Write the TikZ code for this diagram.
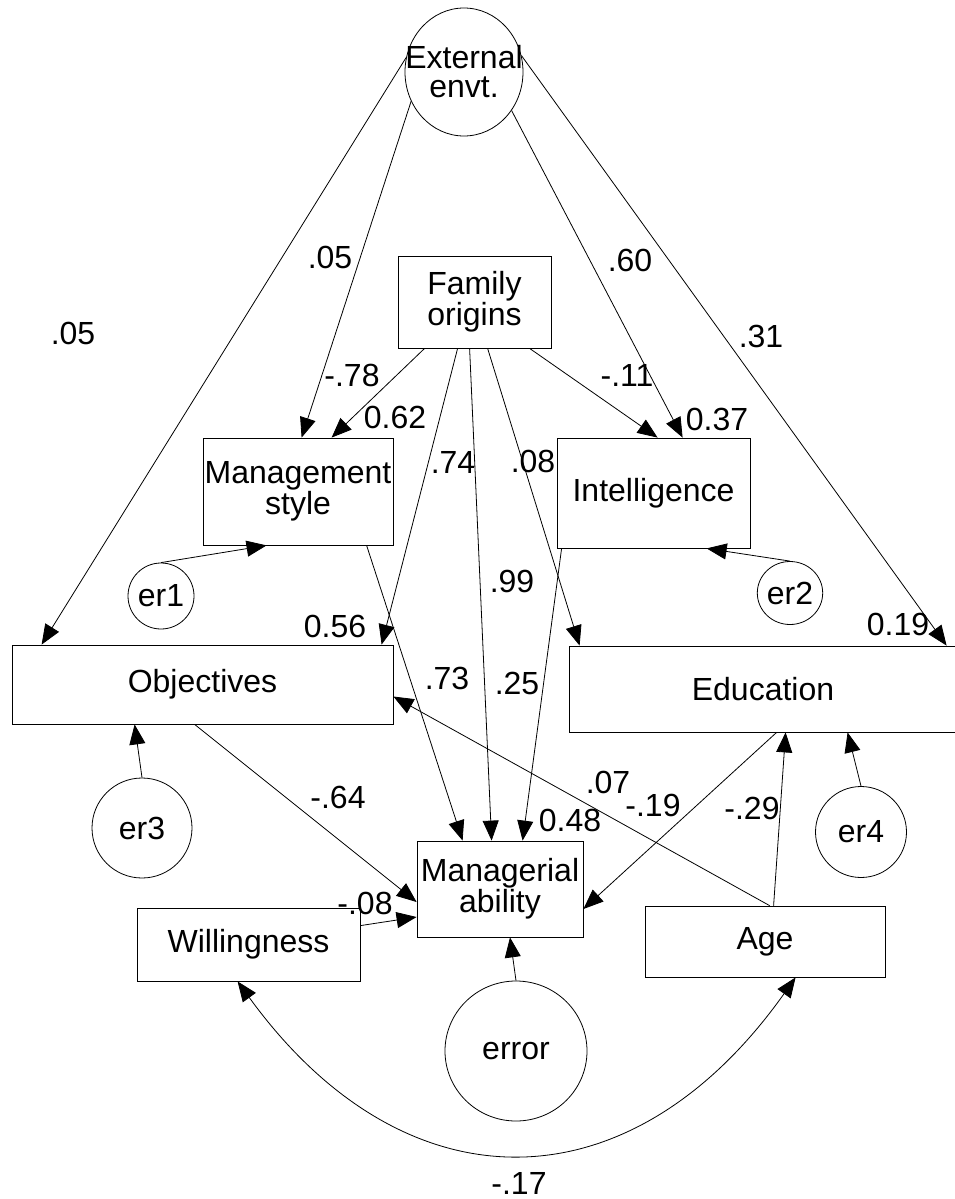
\documentclass[tikz,border=0pt]{standalone}
\usepackage{fontspec}
\setmainfont{Liberation Sans}
\usetikzlibrary{arrows.meta,shapes.geometric}

\begin{document}
\begin{tikzpicture}[
    x=1pt, y=-1pt,
    font=\fontsize{32}{27}\selectfont,
    line width=0.8pt,
    obs/.style={draw, rectangle, align=center, inner sep=0pt},
    latent/.style={draw, ellipse, inner sep=0pt},
    coef/.style={inner sep=0pt},
    arrow/.style={-{Triangle[length=20pt, width=16pt]}},
    covar/.style={{Triangle[length=20pt, width=16pt]}-{Triangle[length=20pt, width=16pt]}}
  ]
    \useasboundingbox (0,0) rectangle (954,1199);

    % latent variables
    \node[latent, minimum width=118, minimum height=128] (ext) at (464,72) {};
    \node[align=center, inner sep=0pt, font=\fontsize{32}{29}\selectfont] (extname) at (ext) {External\\envt.};
    \node[latent, minimum size=66] (er1) at (161,596) {er1};
    \node[latent, minimum size=63] (er2) at (790,593) {er2};
    \node[latent, minimum size=100] (er3) at (142,828) {er3};
    \node[latent, minimum size=91] (er4) at (861,832) {er4};
    \node[latent, minimum width=142, minimum height=140] (error) at (516,1051) {error};

    % observed variables
    \node[obs, minimum width=153, minimum height=92] (family) at (474.5,302) {Family\\origins};
    \node[obs, minimum width=190, minimum height=107] (mgmt) at (298,491.5) {Management\\style};
    \node[obs, minimum width=193, minimum height=110] (intel) at (653.5,493) {Intelligence};
    \node[obs, minimum width=381, minimum height=79] (obj) at (202.5,684.5) {Objectives};
    \node[obs, minimum width=388, minimum height=86] (edu) at (763,689) {Education};
    \node[obs, minimum width=166, minimum height=96] (manag) at (500,889) {Managerial\\ability};
    \node[obs, minimum width=223, minimum height=73] (will) at (248.5,944.5) {Willingness};
    \node[obs, minimum width=240, minimum height=71] (age) at (765,941.5) {Age};

    % paths
    \draw[arrow] (ext.166) -- ([xshift=30]obj.north west);
    \draw[arrow] (ext.209) -- ([xshift=99]mgmt.north west);
    \draw[arrow] (ext.321) -- ([xshift=126]intel.north west);
    \draw[arrow] (ext.16) -- ([xshift=378]edu.north west);
    \draw[arrow] ([xshift=27]family.south west) -- ([xshift=129]mgmt.north west);
    \draw[arrow] ([xshift=60]family.south west) -- ([xshift=370]obj.north west);
    \draw[arrow] ([xshift=72]family.south west) -- ([xshift=75]manag.north west);
    \draw[arrow] ([xshift=90]family.south west) -- ([xshift=11]edu.north west);
    \draw[arrow] ([xshift=132]family.south west) -- ([xshift=101]intel.north west);
    \draw[arrow] ([xshift=164]mgmt.south west) -- ([xshift=46]manag.north west);
    \draw[arrow] ([xshift=5]intel.south west) -- ([xshift=106]manag.north west);
    \draw[arrow] ([xshift=183]obj.south west) -- ([yshift=-13]manag.west);
    \draw[arrow] ([yshift=-18]will.north east) -- ([yshift=-28]manag.west);
    \draw[arrow] ([xshift=208]edu.south west) -- ([yshift=-20]manag.east);
    \draw[arrow] ([xshift=125]age.north west) -- ([yshift=-12]obj.east);
    \draw[arrow] ([xshift=129]age.north west) -- ([xshift=217]edu.south west);
    \draw[arrow] (er1.north) -- ([xshift=64]mgmt.south west);
    \draw[arrow] (er2.north) -- ([xshift=150]intel.south west);
    \draw[arrow] (er3.north) -- ([xshift=123]obj.south west);
    \draw[arrow] (er4.north) -- ([xshift=279]edu.south west);
    \draw[arrow] (error.north) -- ([xshift=10]manag.south);
    \draw[covar] ([xshift=101]will.south west)
      .. controls (404,1211) and (630,1211) .. ([xshift=151]age.south west);

    % estimates
    \node[coef] (c1) at (73,333) {.05};
    \node[coef] (c2) at (330,257) {.05};
    \node[coef] (c3) at (630,260) {.60};
    \node[coef] (c4) at (761,336) {.31};
    \node[coef] (c5) at (352,375) {-.78};
    \node[coef] (c6) at (627,375) {-.11};
    \node[coef] (r1) at (395,417) {0.62};
    \node[coef] (r2) at (717,419) {0.37};
    \node[coef] (c7) at (453,462) {.74};
    \node[coef] (c8) at (533,461) {.08};
    \node[coef] (c9) at (512,581) {.99};
    \node[coef] (r3) at (335,626) {0.56};
    \node[coef] (r4) at (898,624) {0.19};
    \node[coef] (c10) at (447,678) {.73};
    \node[coef] (c11) at (517,683) {.25};
    \node[coef] (c12) at (608,782) {.07};
    \node[coef] (c13) at (653,805) {-.19};
    \node[coef] (c14) at (752,808) {-.29};
    \node[coef] (r5) at (570,820) {0.48};
    \node[coef] (c15) at (338,797) {-.64};
    \node[coef] (c16) at (365,903) {-.08};
    \node[coef] (c17) at (519,1183) {-.17};
\end{tikzpicture}
\end{document}
